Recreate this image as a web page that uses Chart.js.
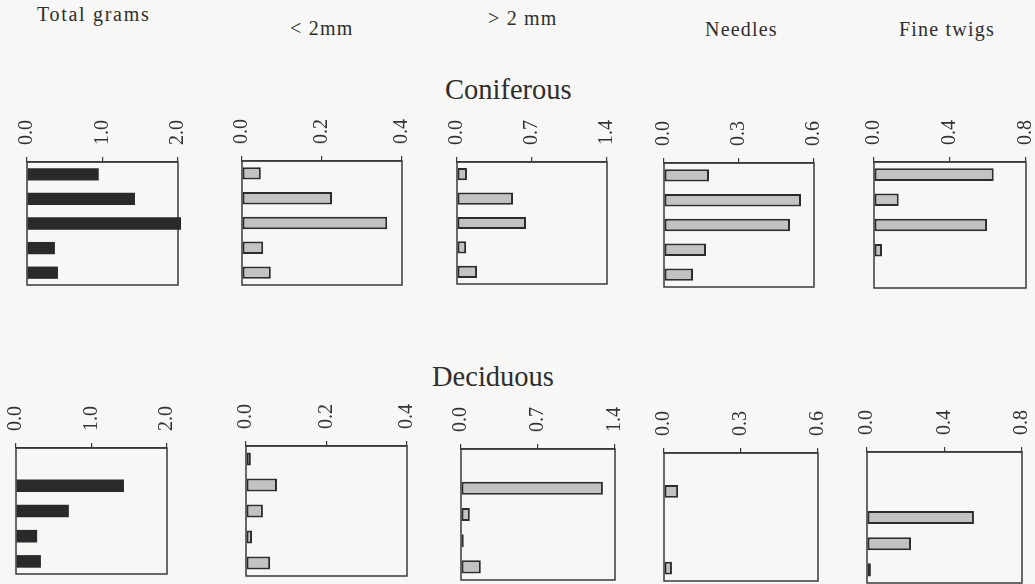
<!DOCTYPE html>
<html>
<head>
<meta charset="utf-8">
<title>Litter mass by fraction</title>
<script src="https://cdn.jsdelivr.net/npm/chart.js@4/dist/chart.umd.min.js"></script>
<style>
  html, body { margin: 0; padding: 0; }
  body {
    width: 1035px; height: 584px; overflow: hidden; position: relative;
    background: #f7f7f5; font-family: "Liberation Serif", "Times New Roman", serif; color: #2e2e2e;
  }
  .hdr { position: absolute; font-size: 20px; line-height: 20px; letter-spacing: 1.2px; white-space: nowrap; }
  .hdr.wide { letter-spacing: 1.7px; }
  .grp { position: absolute; font-size: 28.5px; line-height: 28px; white-space: nowrap; }
  canvas { position: absolute; }
</style>
</head>
<body>
<script>
// Row categories (five plots per forest type, top to bottom)
const categories = ['1', '2', '3', '4', '5'];
const columns = ['Total grams', '< 2mm', '> 2 mm', 'Needles', 'Fine twigs'];
const groups = ['Coniferous', 'Deciduous'];

// Axis range and tick spacing of each column
const axisMax = [2.0, 0.4, 1.4, 0.6, 0.8];
const tickStep = [1.0, 0.2, 0.7, 0.3, 0.4];

// Grams per fraction, coniferous stands
const coniferousTotal   = [0.95, 1.43, 2.04, 0.37, 0.41];
const coniferousFine    = [0.047, 0.225, 0.363, 0.053, 0.072];
const coniferousCoarse  = [0.093, 0.523, 0.644, 0.085, 0.187];
const coniferousNeedles = [0.18, 0.548, 0.504, 0.168, 0.116];
const coniferousTwigs   = [0.63, 0.13, 0.595, 0.042, null];

// Grams per fraction, deciduous stands
const deciduousTotal   = [null, 1.43, 0.70, 0.28, 0.33];
const deciduousFine    = [0.012, 0.077, 0.042, 0.015, 0.06];
const deciduousCoarse  = [null, 1.29, 0.08, 0.025, 0.18];
const deciduousNeedles = [null, 0.055, null, null, 0.031];
const deciduousTwigs   = [null, null, 0.552, 0.227, 0.02];

const seriesGrid = [
  [coniferousTotal, coniferousFine, coniferousCoarse, coniferousNeedles, coniferousTwigs],
  [deciduousTotal, deciduousFine, deciduousCoarse, deciduousNeedles, deciduousTwigs]
];

// Plot frames on the page: [left, top, right, bottom]
const frames = [
  [[27, 162, 178, 285], [242, 161, 402, 285], [457, 162, 607, 284], [664, 163, 814, 287], [874, 162, 1026, 288]],
  [[16, 448, 167, 574], [246, 446, 407, 576], [461, 449, 615, 580], [664, 453, 818, 581], [867, 452, 1022, 583]]
];

// Column headings: [left, top]
const headerPos = [[37, 4], [290, 18], [488, 8], [705, 19], [899, 19]];
const groupPos = [[445, 76], [432, 363]];

const TICK_FONT = 20, TICK_LH = 1.2;
const INK = '#2c2c2c';

columns.forEach((t, i) => {
  const d = document.createElement('div');
  d.className = i === 0 ? 'hdr wide' : 'hdr';
  d.textContent = t;
  d.style.left = headerPos[i][0] + 'px';
  d.style.top = headerPos[i][1] + 'px';
  document.body.appendChild(d);
});
groups.forEach((t, i) => {
  const d = document.createElement('div');
  d.className = 'grp';
  d.textContent = t;
  d.style.left = groupPos[i][0] + 'px';
  d.style.top = groupPos[i][1] + 'px';
  document.body.appendChild(d);
});

// Box around each plotting area, drawn under the bars
const framePlugin = {
  id: 'frameBox',
  beforeDatasetsDraw(chart) {
    const a = chart.chartArea, ctx = chart.ctx;
    ctx.save();
    ctx.strokeStyle = '#3a3a3a';
    ctx.lineWidth = 1.5;
    ctx.strokeRect(a.left, a.top, a.right - a.left, a.bottom - a.top);
    ctx.restore();
  }
};

seriesGrid.forEach((row, r) => {
  row.forEach((values, c) => {
    const [L, T, R, B] = frames[r][c];
    const cv = document.createElement('canvas');
    const w = (R - L) + 80, h = (B - T) + 70;
    cv.width = w; cv.height = h;
    cv.style.width = w + 'px'; cv.style.height = h + 'px';
    cv.style.left = '0px'; cv.style.top = '0px';
    document.body.appendChild(cv);

    const solid = c === 0;
    const max = axisMax[c], step = tickStep[c];
    const chart = new Chart(cv, {
      type: 'bar',
      data: {
        labels: categories,
        datasets: [{
          data: values,
          backgroundColor: solid ? '#2a2a2a' : '#c2c2c0',
          borderColor: INK,
          borderWidth: solid ? 0 : 2,
          borderSkipped: false,
          barPercentage: 0.5,
          categoryPercentage: 1,
          clip: false
        }]
      },
      options: {
        indexAxis: 'y',
        responsive: false,
        maintainAspectRatio: false,
        animation: false,
        devicePixelRatio: 1,
        layout: { padding: { left: 36, right: 36, top: 0, bottom: 4 } },
        plugins: { legend: { display: false }, tooltip: { enabled: false }, title: { display: false } },
        scales: {
          x: {
            position: 'top',
            min: 0,
            max: max,
            afterBuildTicks: (s) => { s.ticks = [0, step, max].map(v => ({ value: v })); },
            afterFit: (s) => { s.height = 50; },
            ticks: {
              autoSkip: false,
              minRotation: 90,
              maxRotation: 90,
              padding: 12,
              labelOffset: TICK_FONT * TICK_LH,
              color: '#333',
              font: { family: '"Liberation Serif", serif', size: TICK_FONT, lineHeight: TICK_LH },
              callback: (v) => Number(v).toFixed(1)
            },
            grid: { drawOnChartArea: false, drawTicks: true, tickLength: 5, color: '#3a3a3a', lineWidth: 1.2 },
            border: { display: true, color: '#3a3a3a', width: 1.5 }
          },
          y: { display: false }
        }
      },
      plugins: [framePlugin]
    });

    // Fit the canvas so the plotting area lands on its frame
    let a = chart.chartArea;
    const dw = (R - L) - (a.right - a.left);
    const dh = (B - T) - (a.bottom - a.top);
    if (dw !== 0 || dh !== 0) {
      chart.resize(w + dw, h + dh);
      a = chart.chartArea;
    }
    cv.style.left = (L - a.left) + 'px';
    cv.style.top = (T - a.top) + 'px';
  });
});
</script>
</body>
</html>
